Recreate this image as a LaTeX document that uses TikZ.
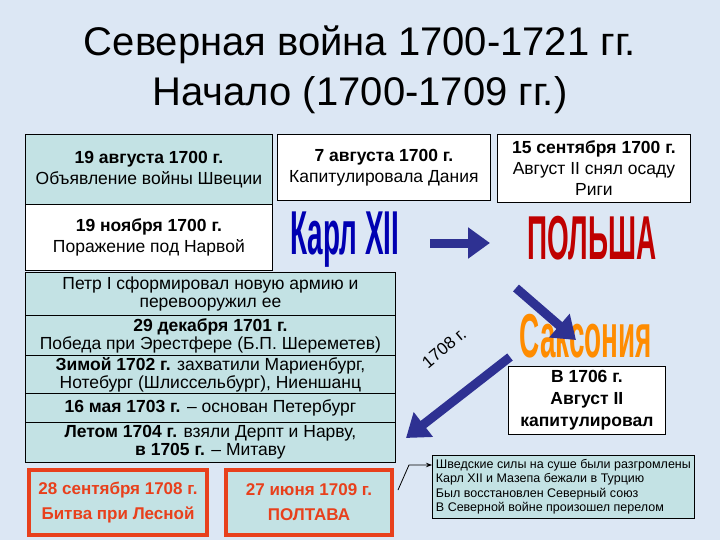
\documentclass[tikz,border=0pt]{standalone}
\usepackage{fontspec}
\setmainfont{Liberation Sans}
\usetikzlibrary{arrows.meta}
\definecolor{bg}{HTML}{DCE7F4}
\definecolor{tealf}{HTML}{C3E2E4}
\definecolor{redb}{HTML}{E8401C}
\definecolor{arrb}{HTML}{2E3192}
\tikzset{
  bx/.style={draw=black,line width=0.8pt,align=center,inner sep=1pt,font=\fontsize{17.5}{21}\selectfont},
  rbx/.style={draw=redb,line width=4pt,fill=tealf,align=center,inner sep=1pt,text=redb,font=\bfseries\fontsize{17}{25}\selectfont},
  bigarr/.style={-{Triangle[length=22pt,width=30pt]},line width=9pt,draw=arrb},
  wa/.style={font=\bfseries\fontsize{62}{62}\selectfont,xscale=0.45},
}
\begin{document}
\begin{tikzpicture}[x=1pt,y=-1pt]
\useasboundingbox (0,0) rectangle (720,540);
\fill[bg] (0,0) rectangle (720,540);
\node (t) at (360,70) [align=center,font=\fontsize{40}{50}\selectfont] {Северная война 1700-1721 гг.\\Начало (1700-1709 гг.)};
% top boxes
\node[bx,fill=tealf,minimum width=247pt,minimum height=70pt,anchor=north west] (b1) at (25,134) {\textbf{19 августа 1700 г.}\\Объявление войны Швеции};
\node[bx,fill=white,minimum width=213pt,minimum height=66pt,anchor=north west] (b2) at (277,134) {\textbf{7 августа 1700 г.}\\Капитулировала Дания};
\node[bx,fill=white,minimum width=193pt,minimum height=68pt,anchor=north west] (b3) at (497,134) {\textbf{15 сентября 1700 г.}\\Август II снял осаду\\Риги};
\node[bx,fill=white,minimum width=247pt,minimum height=66pt,anchor=north west] (b4) at (25,204) {\textbf{19 ноября 1700 г.}\\Поражение под Нарвой};
% big box rows
\tikzset{row/.style={bx,fill=tealf,minimum width=370pt,anchor=north west,inner sep=0pt,font=\fontsize{17.5}{18}\selectfont}}
\node[row,minimum height=43pt] (r1) at (25,272) {Петр I сформировал новую армию и\\перевооружил ее};
\node[row,minimum height=40pt] (r2) at (25,315) {\textbf{29 декабря 1701 г.}\\Победа при Эрестфере (Б.П. Шереметев)};
\node[row,minimum height=38pt] (r3) at (25,355) {\textbf{Зимой 1702 г.} захватили Мариенбург,\\Нотебург (Шлиссельбург), Ниеншанц};
\node[row,minimum height=29pt] (r4) at (25,393) {\textbf{16 мая 1703 г.} – основан Петербург};
\node[row,minimum height=40pt] (r5) at (25,422) {\textbf{Летом 1704 г.} взяли Дерпт и Нарву,\\\textbf{в 1705 г.} – Митаву};
% red boxes
\node[rbx,minimum width=178pt,minimum height=65pt,anchor=north west] (l1) at (27,468) {28 сентября 1708 г.\\Битва при Лесной};
\node[rbx,minimum width=166pt,minimum height=65pt,anchor=north west] (l2) at (224,468) {27 июня 1709 г.\\ПОЛТАВА};
% word art
\node[wa,text=blue!70!black] (karl) at (345,240) {Карл XII};
\node[wa,text=red!75!black] (pol) at (592,238) {ПОЛЬША};
\node[wa,text=orange!90!yellow] (sax) at (586,336) {Саксония};
% saxony box
\node[bx,fill=white,minimum width=157pt,minimum height=68pt,anchor=north west,font=\bfseries\fontsize{17.5}{22}\selectfont] (sb) at (508,366) {В 1706 г.\\Август II\\капитулировал};
\node[draw=black,line width=0.8pt,fill=tealf,minimum width=262pt,minimum height=63pt,anchor=north west,align=left,inner sep=2pt,font=\fontsize{12.5}{14.5}\selectfont] (rb) at (432,455) {Шведские силы на суше были разгромлены\\Карл XII и Мазепа бежали в Турцию\\Был восстановлен Северный союз\\В Северной войне произошел перелом};
% arrows
\coordinate (a1s) at (430,243); \coordinate (a1e) at (490,243);
\draw[bigarr] (a1s) -- (a1e);
\coordinate (a2s) at (516,288); \coordinate (a2e) at (576,340);
\draw[bigarr] (a2s) -- (a2e);
\coordinate (a3s) at (510,357); \coordinate (a3e) at (406,438);
\draw[bigarr] (a3s) -- (a3e);
\node[rotate=40,font=\fontsize{17}{17}\selectfont] (yr) at (444,348) {1708 г.};
\coordinate (s1) at (398,490); \coordinate (s2) at (409,465);
\draw[-{Stealth[length=6pt]},line width=0.8pt] (s1) -- (s2) -- (rb.west |- s2);
\end{tikzpicture}
\end{document}
